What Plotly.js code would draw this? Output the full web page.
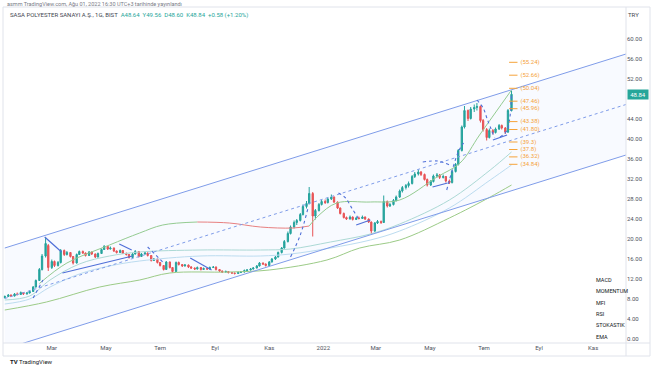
<!DOCTYPE html>
<html><head><meta charset="utf-8">
<script src="https://cdn.plot.ly/plotly-3.0.1.min.js"></script>
<style>html,body{margin:0;padding:0;background:#fff;overflow:hidden}#chart{width:654px;height:366px}</style>
</head><body><div id="chart"></div>
<script>
// ---------- DATA ----------
const dates = [
'2021-01-07','2021-01-11','2021-01-14','2021-01-18','2021-01-21','2021-01-25','2021-01-28',
'2021-02-01','2021-02-04','2021-02-08','2021-02-11','2021-02-15','2021-02-18','2021-02-22','2021-02-25',
'2021-03-01','2021-03-04','2021-03-08','2021-03-11','2021-03-15','2021-03-18','2021-03-22','2021-03-25','2021-03-29',
'2021-04-01','2021-04-05','2021-04-08','2021-04-12','2021-04-15','2021-04-19','2021-04-22','2021-04-26','2021-04-29',
'2021-05-03','2021-05-06','2021-05-10','2021-05-13','2021-05-17','2021-05-20','2021-05-24','2021-05-27','2021-05-31',
'2021-06-03','2021-06-07','2021-06-10','2021-06-14','2021-06-17','2021-06-21','2021-06-24','2021-06-28',
'2021-07-01','2021-07-05','2021-07-08','2021-07-12','2021-07-15','2021-07-19','2021-07-22','2021-07-26','2021-07-29',
'2021-08-02','2021-08-05','2021-08-09','2021-08-12','2021-08-16','2021-08-19','2021-08-23','2021-08-26','2021-08-30',
'2021-09-02','2021-09-06','2021-09-09','2021-09-13','2021-09-16','2021-09-20','2021-09-23','2021-09-27','2021-09-30',
'2021-10-04','2021-10-07','2021-10-11','2021-10-14','2021-10-18','2021-10-21','2021-10-25','2021-10-28',
'2021-11-01','2021-11-04','2021-11-08','2021-11-11','2021-11-15','2021-11-18','2021-11-22','2021-11-25','2021-11-29',
'2021-12-02','2021-12-06','2021-12-09','2021-12-13','2021-12-16','2021-12-20','2021-12-23','2021-12-27','2021-12-30',
'2022-01-03','2022-01-06','2022-01-10','2022-01-13','2022-01-17','2022-01-20','2022-01-24','2022-01-27','2022-01-31',
'2022-02-03','2022-02-07','2022-02-10','2022-02-14','2022-02-17','2022-02-21','2022-02-24','2022-02-28',
'2022-03-03','2022-03-07','2022-03-10','2022-03-14','2022-03-17','2022-03-21','2022-03-24','2022-03-28','2022-03-31',
'2022-04-04','2022-04-07','2022-04-11','2022-04-14','2022-04-18','2022-04-21','2022-04-25','2022-04-28',
'2022-05-02','2022-05-05','2022-05-09','2022-05-12','2022-05-16','2022-05-19','2022-05-23','2022-05-26','2022-05-30',
'2022-06-02','2022-06-06','2022-06-09','2022-06-13','2022-06-16','2022-06-20','2022-06-23','2022-06-27','2022-06-30',
'2022-07-04','2022-07-07','2022-07-11','2022-07-14','2022-07-18','2022-07-21','2022-07-25','2022-07-28',
'2022-08-01'];
const opens = [
8.2,8.4,8.7,8.5,8.9,8.8,9.2,
8.9,9.1,9.4,10.3,11.6,13.8,16.5,18.6,
14.2,15.4,14.6,15.2,17.6,16.8,17.2,16.4,15.1,
16.8,17.4,17.1,16.6,17.3,16.9,16.3,17.0,17.8,
18.4,17.9,18.1,17.5,17.2,17.6,17.0,16.8,16.2,
16.9,17.4,16.4,16.9,17.1,16.6,15.6,15.9,
15.2,14.6,13.8,15.3,14.2,13.4,15.2,14.8,14.5,
14.7,14.3,14.1,13.9,14.2,13.8,14.0,13.9,14.2,
14.3,13.8,13.5,13.3,13.4,13.2,13.1,13.0,13.2,
13.3,13.6,13.7,13.9,14.1,14.5,15.1,14.9,
14.6,15.3,15.9,16.3,17.2,18.1,19.4,21.0,22.3,
23.2,23.6,24.8,26.4,27.0,29.0,24.5,25.6,26.8,
27.4,27.2,27.9,28.3,27.3,26.1,25.0,24.2,23.9,
24.3,23.8,24.1,24.0,24.3,23.9,23.3,21.5,
23.1,23.4,23.2,27.4,26.5,26.8,27.6,28.3,29.5,
30.2,30.6,31.0,32.4,32.9,33.3,32.8,31.8,
30.7,31.4,32.5,32.7,32.2,32.4,31.5,31.2,33.4,
34.8,37.6,42.3,45.6,44.0,45.9,46.2,46.4,43.6,
41.8,40.2,41.6,41.2,41.9,42.6,42.1,41.3,
45.6];
const highs = [
8.6,8.9,8.8,9.1,9.2,9.4,9.3,
9.3,9.6,10.5,11.8,14.1,16.9,20.2,18.9,
15.8,15.6,15.5,17.9,17.8,17.5,17.3,16.5,17.0,
17.6,17.6,17.2,17.5,17.4,17.0,17.2,18.0,18.7,
18.5,18.4,18.2,17.6,17.8,17.7,17.2,16.9,17.1,
17.7,17.5,17.1,17.3,17.2,16.7,16.1,16.0,
15.3,14.7,15.5,15.4,14.3,15.4,15.4,14.9,14.9,
14.8,14.5,14.2,14.4,14.3,14.2,14.1,14.4,14.5,
14.4,13.9,13.6,13.6,13.5,13.3,13.2,13.4,13.5,
13.8,13.9,14.1,14.3,14.7,15.3,15.2,15.0,
15.5,16.1,16.5,17.4,18.3,19.7,21.4,22.6,23.6,
23.9,25.1,26.8,27.5,30.3,29.3,25.9,27.1,27.7,
27.8,28.2,28.8,28.4,27.4,26.2,25.2,24.4,24.6,
24.4,24.3,24.4,24.6,24.4,24.0,23.4,23.3,
23.7,23.6,28.6,27.6,27.1,27.9,28.6,29.8,30.5,
30.9,31.4,32.7,33.3,33.8,33.5,33.0,32.0,
31.7,32.8,33.1,32.9,32.8,32.5,31.8,33.7,35.1,
37.9,42.6,46.5,45.8,46.3,46.8,47.1,46.6,43.9,
42.1,42.0,41.9,42.2,42.9,42.8,42.3,45.9,
49.56];
const lows = [
8.0,8.3,8.3,8.4,8.6,8.7,8.7,
8.8,9.0,9.3,10.2,11.5,13.6,16.2,13.5,
13.9,14.3,14.4,15.0,16.5,16.6,16.2,14.8,15.0,
16.7,16.9,16.4,16.5,16.7,16.1,16.2,16.9,17.7,
17.7,17.8,17.3,17.0,17.1,16.9,16.6,16.0,16.1,
16.8,16.2,16.3,16.8,16.4,15.4,15.5,15.0,
14.4,13.6,13.7,14.0,13.2,13.3,14.6,14.3,14.4,
14.1,13.9,13.7,13.8,13.6,13.7,13.7,13.8,14.1,
13.6,13.3,13.1,13.2,13.0,12.9,12.8,12.9,13.1,
13.2,13.4,13.6,13.8,14.0,14.4,14.7,14.4,
14.5,15.2,15.7,16.2,17.0,18.0,19.2,20.8,22.0,
22.7,23.4,24.6,26.0,26.8,20.4,23.8,25.4,26.6,
26.9,27.0,27.7,27.1,25.9,24.8,24.0,23.7,23.8,
23.6,23.7,23.8,23.9,23.7,23.1,20.9,21.3,
22.9,22.9,23.1,26.2,26.3,26.6,27.4,28.1,29.2,
29.8,30.2,30.8,32.1,32.6,32.5,31.6,30.4,
30.5,31.2,32.2,31.9,32.0,31.2,30.9,31.0,33.2,
34.6,37.4,42.0,43.5,43.8,45.3,45.6,43.2,41.4,
39.6,40.0,40.8,41.0,41.7,41.8,40.9,41.1,
45.4];
const closes = [
8.4,8.7,8.5,8.9,8.8,9.2,8.9,
9.1,9.4,10.3,11.6,13.8,16.5,19.0,14.2,
15.4,14.6,15.2,17.6,16.8,17.2,16.4,15.1,16.8,
17.4,17.1,16.6,17.3,16.9,16.3,17.0,17.8,18.4,
17.9,18.1,17.5,17.2,17.6,17.0,16.8,16.2,16.9,
17.4,16.4,16.9,17.1,16.6,15.6,15.9,15.2,
14.6,13.8,15.3,14.2,13.4,15.2,14.8,14.5,14.7,
14.3,14.1,13.9,14.2,13.8,14.0,13.9,14.2,14.3,
13.8,13.5,13.3,13.4,13.2,13.1,13.0,13.2,13.3,
13.6,13.7,13.9,14.1,14.5,15.1,14.9,14.6,
15.3,15.9,16.3,17.2,18.1,19.4,21.0,22.3,23.2,
23.6,24.8,26.4,27.0,29.0,24.5,25.6,26.8,27.4,
27.2,27.9,28.3,27.3,26.1,25.0,24.2,23.9,24.3,
23.8,24.1,24.0,24.3,23.9,23.3,21.5,23.1,
23.4,23.2,27.4,26.5,26.8,27.6,28.3,29.5,30.2,
30.6,31.0,32.4,32.9,33.3,32.8,31.8,30.7,
31.4,32.5,32.7,32.2,32.4,31.5,31.2,33.4,34.8,
37.6,42.3,45.6,44.0,45.9,46.2,46.4,43.6,41.8,
40.2,41.6,41.2,41.9,42.6,42.1,41.3,45.6,
48.84];

// Parallel channel (upper / middle / lower)
const chanDates = ['2021-01-07','2022-12-08'];
const upperVals = [18.1, 56.9];
const midVals   = [8.0, 46.8];
const lowerVals = [-2.1, 36.7];

// Long moving average (green)
const maLongDates = ['2021-01-07','2021-02-23','2021-04-24','2021-06-08','2021-07-12','2021-09-17','2021-11-01','2022-01-05','2022-02-11','2022-03-28','2022-05-23','2022-07-08','2022-08-01'];
const maLongVals  = [5.7,7.3,10.3,11.7,13.1,13.3,13.7,15.7,18.1,19.7,24.1,28.3,30.7];

// Medium moving average: rising (green) / falling (red) parts
const maMidUpDates1 = ['2021-02-15','2021-03-18','2021-05-05','2021-06-08','2021-07-04','2021-08-12'];
const maMidUpVals1  = [11.0,15.1,18.7,21.1,22.7,23.3];
const maMidDnDates  = ['2021-08-12','2021-09-17','2021-10-22','2021-11-28','2021-12-16'];
const maMidDnVals   = [23.3,23.1,22.3,22.1,22.5];
const maMidUpDates2 = ['2021-12-16','2021-12-26','2022-01-16','2022-02-23','2022-03-28','2022-05-09','2022-06-04','2022-06-26','2022-08-01'];
const maMidUpVals2  = [22.5,24.5,27.1,27.3,27.7,32.3,35.1,40.7,49.7];

// Light EMA ribbons
const emaDates = ['2021-01-07','2021-02-04','2021-02-27','2021-04-01','2021-05-05','2021-06-08','2021-08-15','2021-10-22','2021-11-25','2022-01-09','2022-02-23','2022-03-28','2022-05-23','2022-07-08','2022-08-01'];
const emaAVals = [7.7,8.5,11.7,14.9,16.5,17.3,17.7,17.7,17.9,19.3,20.9,22.9,27.7,33.7,37.3];
const emaBVals = [6.9,7.9,10.3,12.9,14.5,15.5,16.5,16.5,16.9,18.1,19.7,21.5,26.1,31.7,34.7];

// Parabolic-SAR-like dotted segments (null separates segments)
const sarDates = ['2021-02-08','2021-02-19',null,'2021-06-17','2021-07-04',null,
  '2021-11-25','2021-12-06','2021-12-15',null,
  '2022-01-18','2022-01-26','2022-02-02','2022-02-09',null,
  '2022-04-23','2022-05-10','2022-05-23',null,
  '2022-05-20','2022-06-02','2022-06-08',null,
  '2022-06-23','2022-06-30','2022-07-05','2022-07-13',null,
  '2022-07-19','2022-07-27','2022-08-01'];
const sarVals = [8.1,11.7,null,18.3,15.3,null,
  16.3,20.7,26.3,null,
  29.1,28.1,26.1,24.1,null,
  35.3,35.5,34.7,null,
  29.7,37.3,39.1,null,
  47.7,46.1,43.7,40.1,null,
  40.3,41.7,49.1];

// Solid blue trend segments
const segDates = ['2021-02-21','2021-03-12',null,'2021-03-13','2021-05-31',null,'2021-05-16','2021-05-30',null,
  '2021-08-04','2021-08-28',null,'2022-02-07','2022-02-23',null,'2022-05-04','2022-05-21',null,'2022-07-11','2022-07-27'];
const segVals = [20.3,17.3,null,13.1,16.5,null,18.9,17.7,null,16.1,13.7,null,22.7,23.7,null,30.3,31.1,null,39.7,40.7];

// Fibonacci-like levels
const fibLevels = [55.24,52.66,50.04,47.46,45.96,43.38,41.80,39.3,37.8,36.32,34.84];
const fibLabels = ['(55.24)','(52.66)','(50.04)','(47.46)','(45.96)','(43.38)','(41.80)','(39.3)','(37.8)','(36.32)','(34.84)'];

// Axis ticks (48.00 sits under the last-price badge in the reference)
const xTickVals = ['2021-03-01','2021-05-01','2021-07-01','2021-09-01','2021-11-01','2022-01-01','2022-03-01','2022-05-01','2022-07-01','2022-09-01','2022-11-01'];
const xTickText = ['Mar','May','Tem','Eyl','Kas','2022','Mar','May','Tem','Eyl','Kas'];
const yTickVals = [0,4,8,12,16,20,24,28,32,36,40,44,52,56,60];
const indicators = ['MACD','MOMENTUM','MFI','RSI','STOKASTIK','EMA'];

// ---------- CHART ----------
const FONT = 'Roboto, "Liberation Sans", Arial, sans-serif';
const UP = '#26a69a', DN = '#ef5350', CH = '#7f9ce9', ORANGE = '#f5a33a';
const traces = [];

traces.push({x:[chanDates[0],chanDates[1],chanDates[1],chanDates[0]],
  y:[upperVals[0],upperVals[1],lowerVals[1],lowerVals[0]],
  type:'scatter', mode:'none', fill:'toself', fillcolor:'rgba(41,98,255,0.03)', hoverinfo:'skip'});

traces.push({x:emaDates, y:emaBVals, type:'scatter', mode:'lines', line:{color:'#bcdcf0', width:1, shape:'spline'}, hoverinfo:'skip'});
traces.push({x:emaDates, y:emaAVals, type:'scatter', mode:'lines', line:{color:'#acd9d5', width:1, shape:'spline'}, hoverinfo:'skip'});
traces.push({x:maLongDates, y:maLongVals, type:'scatter', mode:'lines', line:{color:'#9ccb87', width:1, shape:'spline'}, hoverinfo:'skip'});
traces.push({x:maMidUpDates1, y:maMidUpVals1, type:'scatter', mode:'lines', line:{color:'#94cb91', width:1, shape:'spline'}, hoverinfo:'skip'});
traces.push({x:maMidDnDates, y:maMidDnVals, type:'scatter', mode:'lines', line:{color:'#e88080', width:1, shape:'spline'}, hoverinfo:'skip'});
traces.push({x:maMidUpDates2, y:maMidUpVals2, type:'scatter', mode:'lines', line:{color:'#94cb91', width:1, shape:'spline'}, hoverinfo:'skip'});

traces.push({x:chanDates, y:upperVals, type:'scatter', mode:'lines', line:{color:CH, width:1}, hoverinfo:'skip'});
traces.push({x:chanDates, y:lowerVals, type:'scatter', mode:'lines', line:{color:CH, width:1}, hoverinfo:'skip'});
traces.push({x:chanDates, y:midVals, type:'scatter', mode:'lines', line:{color:CH, width:1, dash:'3px,3px'}, hoverinfo:'skip'});

traces.push({type:'candlestick', x:dates, open:opens, high:highs, low:lows, close:closes,
  increasing:{line:{color:UP, width:1}, fillcolor:UP},
  decreasing:{line:{color:DN, width:1}, fillcolor:DN},
  whiskerwidth:0, hoverinfo:'skip'});

traces.push({x:segDates, y:segVals, type:'scatter', mode:'lines', connectgaps:false, line:{color:'#4f6fd8', width:1.2}, hoverinfo:'skip'});
traces.push({x:sarDates, y:sarVals, type:'scatter', mode:'lines', connectgaps:false, line:{color:'#4f6fd8', width:1.1, dash:'dot', shape:'spline'}, hoverinfo:'skip'});

traces.push({x:fibLevels.map(()=> '2022-08-03'), y:fibLevels, type:'scatter', mode:'markers',
  marker:{symbol:'line-ew', size:6, line:{color:ORANGE, width:1}}, hoverinfo:'skip'});
traces.push({x:fibLevels.map(()=> '2022-08-11'), y:fibLevels, text:fibLabels, type:'scatter', mode:'text',
  textposition:'middle right', textfont:{family:FONT, size:6, color:ORANGE}, hoverinfo:'skip', cliponaxis:false});

const pyr = py => (343 - py) / 336;
const pxr = px => (px - 3) / 623;
const annotations = [
  {xref:'paper', yref:'paper', x:pxr(5), y:pyr(4), xanchor:'left', yanchor:'middle', showarrow:false,
   text:'asmm TradingView.com, Ağu 01, 2022 16:30 UTC+3 tarihinde yayınlandı', font:{family:FONT, size:5.5, color:'#787b86'}},
  {xref:'paper', yref:'paper', x:pxr(8), y:pyr(15), xanchor:'left', yanchor:'middle', showarrow:false,
   text:'SASA POLYESTER SANAYI A.Ş., 1G, BIST  <span style="color:#26a69a">A48.64  Y49.56  D48.60  K48.84  +0.58 (+1.20%)</span>',
   font:{family:FONT, size:6, color:'#434651'}},
  {xref:'paper', yref:'paper', x:pxr(634), y:pyr(14), xanchor:'center', yanchor:'middle', showarrow:false,
   text:'TRY', font:{family:FONT, size:6, color:'#434651'}},
  {xref:'paper', yref:'y', x:1, y:closes[closes.length-1], xanchor:'left', yanchor:'middle', xshift:1, showarrow:false,
   text:closes[closes.length-1].toFixed(2), bgcolor:UP, width:20, height:9, borderpad:0,
   font:{family:FONT, size:6, color:'#ffffff'}},
  {xref:'paper', yref:'paper', x:pxr(8), y:pyr(361), xanchor:'left', yanchor:'middle', showarrow:false,
   text:'<b>TV</b> TradingView', font:{family:FONT, size:6, color:'#131722'}}
];
const indY = [280,291,303,314,325,337];
indicators.forEach((t,i)=> annotations.push({xref:'paper', yref:'paper', x:pxr(594), y:pyr(indY[i]), xanchor:'left', yanchor:'middle',
  showarrow:false, text:t, font:{family:FONT, size:5.5, color:'#131722'}}));

const shapes = [
  {type:'rect', xref:'paper', yref:'paper', x0:0, x1:pxr(650), y0:pyr(356), y1:1, line:{color:'#e0e3eb', width:1}},
  {type:'line', xref:'paper', yref:'paper', x0:0, x1:pxr(650), y0:0, y1:0, line:{color:'#e0e3eb', width:1}},
  {type:'line', xref:'paper', yref:'paper', x0:1, x1:1, y0:pyr(356), y1:1, line:{color:'#e0e3eb', width:1}}
];

const layout = {
  width:654, height:366,
  margin:{l:3, r:28, t:7, b:23},
  paper_bgcolor:'#ffffff', plot_bgcolor:'#ffffff',
  showlegend:false,
  font:{family:FONT, size:6, color:'#434651'},
  xaxis:{type:'date', range:['2021-01-05','2022-12-08'], tickmode:'array', tickvals:xTickVals, ticktext:xTickText,
    showgrid:false, zeroline:false, showline:false, ticks:'', tickfont:{family:FONT, size:6, color:'#50535e'},
    rangeslider:{visible:false}, fixedrange:true},
  yaxis:{side:'right', range:[-0.9, 66.3], tickmode:'array', tickvals:yTickVals, tickformat:'.2f',
    showgrid:false, zeroline:false, showline:false, ticks:'', tickfont:{family:FONT, size:6, color:'#50535e'}, fixedrange:true},
  annotations:annotations, shapes:shapes
};
Plotly.newPlot('chart', traces, layout, {staticPlot:true, displayModeBar:false});
</script></body></html>
